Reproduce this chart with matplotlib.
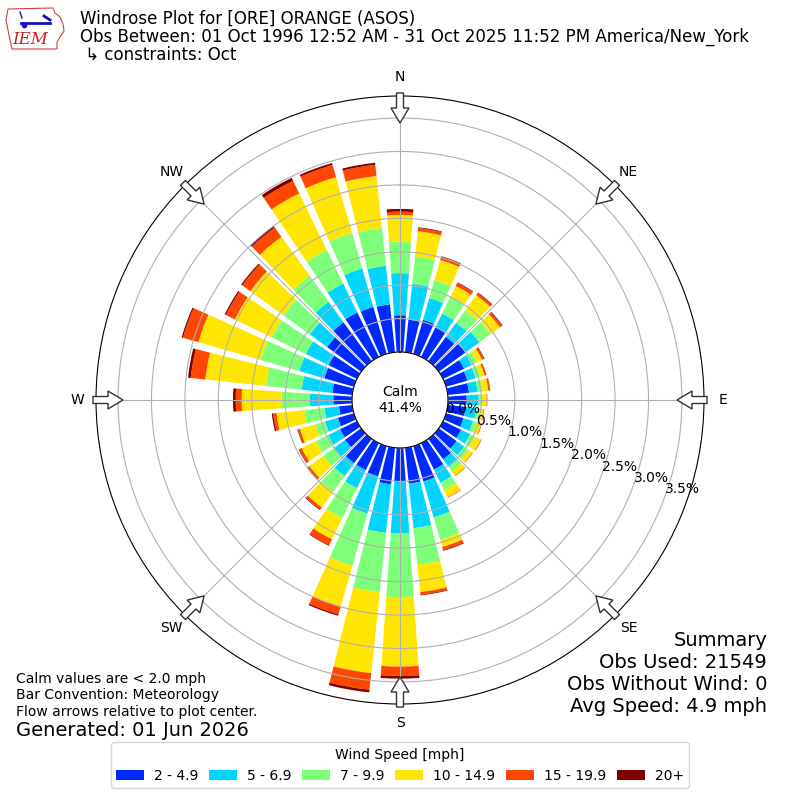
import numpy as np
import matplotlib
matplotlib.use("Agg")
import matplotlib.pyplot as plt
from matplotlib.patches import FancyArrow, Polygon

# ---------------- data ----------------
directions = list(range(0, 360, 10))
speed_labels = ["2 - 4.9", "5 - 6.9", "7 - 9.9", "10 - 14.9", "15 - 19.9", "20+"]

# percent of observations per direction, per speed bin
spd_2_5 = [0.55, 0.49, 0.53, 0.49, 0.45, 0.49, 0.35, 0.33, 0.32, 0.28, 0.27, 0.27,
           0.30, 0.33, 0.38, 0.44, 0.55, 0.54, 0.50, 0.55, 0.47, 0.45, 0.45, 0.30,
           0.28, 0.25, 0.20, 0.28, 0.30, 0.46, 0.47, 0.63, 0.72, 0.74, 0.73, 0.72]
spd_5_7 = [0.63, 0.54, 0.34, 0.23, 0.26, 0.26, 0.13, 0.13, 0.13, 0.18, 0.16, 0.15,
           0.15, 0.14, 0.14, 0.22, 0.56, 0.67, 0.78, 0.73, 0.58, 0.30, 0.24, 0.21,
           0.20, 0.20, 0.22, 0.35, 0.46, 0.39, 0.38, 0.32, 0.38, 0.48, 0.60, 0.58]
spd_7_10 = [0.47, 0.41, 0.28, 0.29, 0.23, 0.21, 0.08, 0.07, 0.07, 0.05, 0.05, 0.06,
            0.08, 0.08, 0.08, 0.12, 0.35, 0.55, 0.95, 0.89, 0.81, 0.50, 0.29, 0.19,
            0.20, 0.15, 0.30, 0.42, 0.54, 0.60, 0.57, 0.49, 0.48, 0.56, 0.55, 0.57]
spd_10_15 = [0.40, 0.38, 0.31, 0.17, 0.28, 0.17, 0.09, 0.07, 0.09, 0.07, 0.06, 0.07,
             0.10, 0.07, 0.08, 0.12, 0.11, 0.41, 1.04, 1.22, 0.64, 0.35, 0.29, 0.26,
             0.24, 0.24, 0.42, 0.60, 0.91, 0.97, 0.61, 0.61, 0.72, 0.94, 0.87, 0.78]
spd_15_20 = [0.05, 0.05, 0.05, 0.05, 0.04, 0.04, 0.03, 0.03, 0.03, 0.01, 0.01, 0.01,
             0.01, 0.01, 0.01, 0.01, 0.05, 0.04, 0.14, 0.25, 0.12, 0.10, 0.04, 0.03,
             0.04, 0.03, 0.05, 0.09, 0.22, 0.24, 0.15, 0.15, 0.17, 0.21, 0.19, 0.17]
spd_20p = [0.04, 0.01, 0.01, 0.01, 0.01, 0.01, 0.01, 0.00, 0.00, 0.00, 0.00, 0.00,
           0.00, 0.00, 0.00, 0.00, 0.01, 0.01, 0.04, 0.04, 0.02, 0.01, 0.01, 0.01,
           0.01, 0.01, 0.02, 0.04, 0.04, 0.02, 0.02, 0.02, 0.03, 0.05, 0.03, 0.03]
series = [spd_2_5, spd_5_7, spd_7_10, spd_10_15, spd_15_20, spd_20p]

rticks = [0.0, 0.5, 1.0, 1.5, 2.0, 2.5, 3.0, 3.5]
compass = ["N", "NE", "E", "SE", "S", "SW", "W", "NW"]
calm_pct = 41.4

title_lines = ["Windrose Plot for [ORE] ORANGE (ASOS)",
               "Obs Between: 01 Oct 1996 12:52 AM - 31 Oct 2025 11:52 PM America/New_York",
               " \u21b3 constraints: Oct"]
notes = ["Calm values are < 2.0 mph", "Bar Convention: Meteorology",
         "Flow arrows relative to plot center."]
generated = "Generated: 01 Jun 2026"
summary = ["Summary", "Obs Used: 21549", "Obs Without Wind: 0", "Avg Speed: 4.9 mph"]

# ---------------- plot ----------------
colors = [plt.cm.jet(v) for v in np.linspace(1 / 6.0, 1.0, 6)]

fig = plt.figure(figsize=(8, 8), dpi=100)
ax = fig.add_axes([0.12, 0.12, 0.76, 0.76], projection="polar")
ax.set_theta_zero_location("N")
ax.set_theta_direction(-1)

theta = np.deg2rad(directions)
bottom = np.zeros(len(directions))
for vals, col, lab in zip(series, colors, speed_labels):
    v = np.array(vals)
    ax.bar(theta, v, width=np.deg2rad(8), bottom=bottom, color=col,
           label=lab, align="center", linewidth=0)
    bottom = bottom + v

ax.set_ylim(0, 3.83)
ax.set_rorigin(-0.718)
ax.set_yticks(rticks)
ax.set_yticklabels([f"{t:.1f}%" for t in rticks], fontsize=10)
ax.set_rlabel_position(110)
ax.set_xticks(np.deg2rad(np.arange(0, 360, 45)))
ax.set_xticklabels([])
ax.grid(True, color="#b0b0b0", lw=0.8)

ax.text(0.5, 0.5, f"Calm\n{calm_pct:.1f}%", transform=ax.transAxes,
        ha="center", va="center", fontsize=10)

leg = ax.legend(loc="lower center", bbox_to_anchor=(0.5, 0.006),
                bbox_transform=fig.transFigure, ncol=6, fontsize=10,
                title="Wind Speed [mph]", title_fontsize=10,
                columnspacing=0.8, handletextpad=0.7)

# overlay in pixel coordinates (y downward) for arrows, compass labels, logo
ov = fig.add_axes([0, 0, 1, 1], facecolor="none")
ov.set_xlim(0, 800)
ov.set_ylim(800, 0)
ov.axis("off")
cx, cy = 400, 400
for i, lab in enumerate(compass):
    ang = np.deg2rad(i * 45)
    sx, sy = np.sin(ang), -np.cos(ang)
    ov.text(cx + 323 * sx, cy + 323 * sy, lab, ha="center", va="center", fontsize=10)
    r0 = 307
    L = 30
    ov.add_patch(FancyArrow(cx + r0 * sx, cy + r0 * sy, -L * sx, -L * sy,
                            width=7, head_width=18, head_length=15,
                            length_includes_head=True, fc="white", ec="#333333",
                            lw=1, zorder=5))

# simple logo
iowa = [(8, 9), (53, 8), (55, 13), (60, 17), (63, 24), (64, 31), (60, 37),
        (57, 42), (57, 49), (12, 49), (10, 40), (8, 30), (6, 20)]
ov.add_patch(Polygon(iowa, closed=True, fill=False, ec="#d04040", lw=0.8))
ov.plot([21, 50], [23, 23], color="#1010c0", lw=2)
ov.plot([44, 50], [16, 20], color="#1010c0", lw=2)
ov.plot([20, 22], [12, 18], color="#1010c0", lw=1)
ov.plot([24], [25], "o", color="#1010c0", ms=3)
ov.text(30, 40, "IEM", fontsize=12, color="#cc2222", family="serif",
        style="italic", ha="center", va="center")

# header texts
fig.text(0.1, 0.976, title_lines[0], fontsize=12, va="center", ha="left")
fig.text(0.1, 0.954, title_lines[1], fontsize=12, va="center", ha="left")
fig.text(0.1, 0.931, title_lines[2], fontsize=12, va="center", ha="left")

for k, t in enumerate(notes):
    fig.text(0.02, 1 - (679 + 16.5 * k) / 800, t, fontsize=10, va="center", ha="left")
fig.text(0.02, 1 - 730 / 800, generated, fontsize=14, va="center", ha="left")
for k, t in enumerate(summary):
    fig.text(0.959, 1 - (640 + 22 * k) / 800, t, fontsize=14, va="center", ha="right")

fig.savefig("out.png", dpi=100)
